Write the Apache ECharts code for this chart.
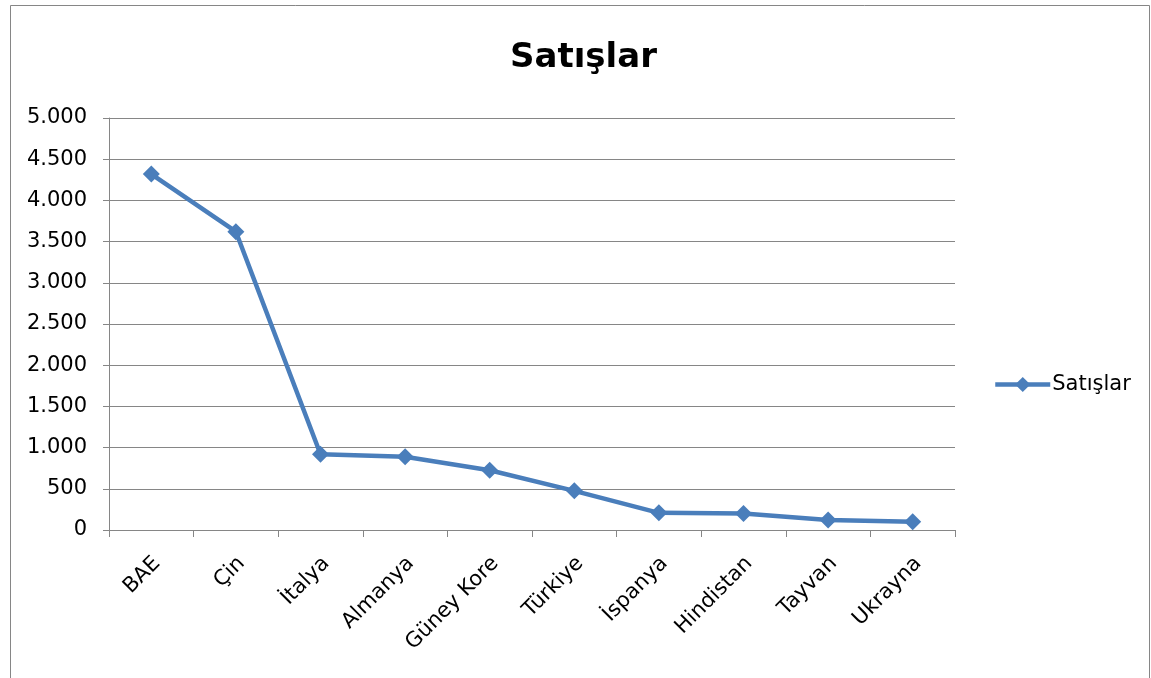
<!DOCTYPE html>
<html>
<head>
<meta charset="utf-8">
<script src="https://cdn.jsdelivr.net/npm/echarts@6/dist/echarts.min.js"></script>
<style>
html,body{margin:0;padding:0;background:#fff;}
#chart{width:1151px;height:678px;}
</style>
</head>
<body>
<div id="chart"></div>
<script>
const categories = ["BAE", "Çin", "İtalya", "Almanya", "Güney Kore", "Türkiye", "İspanya", "Hindistan", "Tayvan", "Ukrayna"];
const sales = [4320, 3620, 920, 890, 725, 475, 208, 200, 120, 100];
const seriesName = "Satışlar";
const titleText = "Satışlar";

const fmt = v => String(v).replace(/\B(?=(\d{3})+(?!\d))/g, ".");
const font = "'DejaVu Sans', sans-serif";

const chart = echarts.init(document.getElementById('chart'));
chart.setOption({
  animation: false,
  backgroundColor: '#fff',
  graphic: [{
    type: 'rect', left: 8, top: 3,
    shape: { width: 1139, height: 673 },
    style: { fill: 'none', stroke: '#868686', lineWidth: 1 }
  }],
  title: {
    text: titleText, left: 505, top: 36,
    textStyle: { fontFamily: font, fontSize: 34, fontWeight: 'bold', color: '#000' }
  },
  legend: {
    data: [seriesName], left: 988, top: 369, orient: 'vertical',
    itemWidth: 55, itemHeight: 19, itemGap: 4,
    lineStyle: { width: 4.5 },
    textStyle: { fontFamily: font, fontSize: 21, color: '#000', padding: [0, 0, 0, -3] }
  },
  grid: { left: 109, right: 196, top: 118, bottom: 148 },
  xAxis: {
    type: 'category', data: categories, boundaryGap: true,
    axisLine: { lineStyle: { color: '#868686', width: 1 } },
    axisTick: { show: true, length: 7, alignWithLabel: false, lineStyle: { color: '#868686' } },
    axisLabel: { rotate: 45, interval: 0, margin: 36, padding: [0, -8, 0, 0], fontFamily: font, fontSize: 21, color: '#000' }
  },
  yAxis: {
    type: 'value', min: 0, max: 5000, interval: 500,
    axisLine: { show: true, lineStyle: { color: '#868686', width: 1 } },
    axisTick: { show: true, length: 6, lineStyle: { color: '#868686' } },
    splitLine: { lineStyle: { color: '#868686', width: 1 } },
    axisLabel: { margin: 22, fontFamily: font, fontSize: 21, color: '#000', formatter: fmt }
  },
  series: [{
    name: seriesName, type: 'line', data: sales,
    symbol: 'diamond', symbolSize: 17,
    lineStyle: { color: '#4a7ebb', width: 4.5 },
    itemStyle: { color: '#4a7ebb' }
  }]
});
</script>
</body>
</html>
